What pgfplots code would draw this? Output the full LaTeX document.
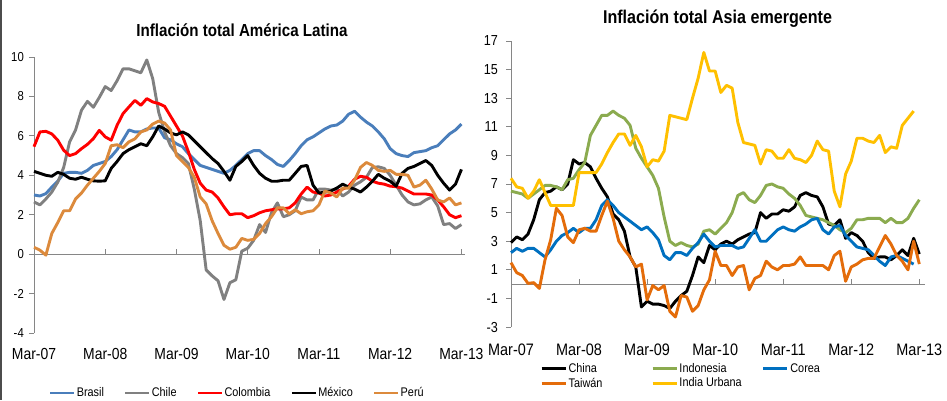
\documentclass[border=0pt]{standalone}
\usepackage{fontspec}
\setmainfont{Liberation Sans}[FakeStretch=0.87]
\usepackage{pgfplots}
\pgfplotsset{compat=1.18}
\usepackage{pgfplotstable}

\definecolor{cBra}{RGB}{74,126,187}
\definecolor{cChi}{RGB}{128,128,128}
\definecolor{cCol}{RGB}{255,0,0}
\definecolor{cMex}{RGB}{0,0,0}
\definecolor{cPer}{RGB}{220,138,60}
\definecolor{cChn}{RGB}{0,0,0}
\definecolor{cIdo}{RGB}{139,171,79}
\definecolor{cCor}{RGB}{0,112,192}
\definecolor{cTwn}{RGB}{228,108,10}
\definecolor{cInd}{RGB}{255,192,0}
\definecolor{axgray}{RGB}{134,134,134}

\pgfplotstableread{
m bra chi col mex per
0 3.00 2.65 5.45 4.20 0.35
1 2.95 2.50 6.20 4.10 0.20
2 3.07 2.80 6.23 4.00 -0.05
3 3.40 3.15 6.10 3.95 1.05
4 3.70 3.65 5.78 4.15 1.60
5 4.10 4.40 5.27 4.05 2.20
6 4.15 5.70 5.00 3.85 2.20
7 4.15 6.30 5.10 3.80 2.80
8 4.10 7.30 5.35 3.90 3.10
9 4.25 7.75 5.57 3.80 3.50
10 4.50 7.45 5.86 3.72 3.85
11 4.60 7.95 6.28 3.70 4.20
12 4.70 8.50 5.95 3.72 4.60
13 4.95 8.30 5.78 4.35 5.50
14 5.30 8.80 6.54 4.70 5.55
15 5.80 9.40 7.13 5.10 5.40
16 6.30 9.40 7.47 5.30 5.70
17 6.20 9.30 7.80 5.45 5.85
18 6.20 9.20 7.55 5.60 6.20
19 6.35 9.85 7.89 5.50 6.30
20 6.40 8.90 7.72 5.95 6.60
21 6.40 7.20 7.64 6.50 6.75
22 5.90 6.20 7.50 6.35 6.65
23 5.80 5.50 7.00 6.15 6.30
24 5.60 5.10 6.50 6.05 5.00
25 5.45 4.90 6.00 6.20 4.70
26 5.10 4.60 5.20 6.05 4.40
27 4.80 3.30 4.30 5.75 3.90
28 4.50 1.70 3.60 5.45 2.90
29 4.40 -0.80 3.25 5.15 2.55
30 4.30 -1.10 3.15 4.85 1.70
31 4.20 -1.35 2.85 4.60 1.05
32 4.10 -2.30 2.40 4.20 0.45
33 4.25 -1.45 2.00 3.75 0.25
34 4.50 -1.30 2.05 4.45 0.35
35 4.80 0.15 2.05 4.70 0.80
36 5.10 0.30 1.85 5.00 0.70
37 5.25 0.70 1.95 4.50 0.75
38 5.25 1.50 2.10 4.10 1.05
39 5.00 1.10 2.20 3.85 1.55
40 4.80 2.10 2.25 3.70 1.90
41 4.55 2.60 2.30 3.70 2.35
42 4.45 1.90 2.30 3.75 2.35
43 4.75 2.00 2.35 3.75 2.05
44 5.10 2.20 2.60 4.10 2.25
45 5.50 2.90 3.05 4.45 2.05
46 5.80 2.75 3.40 4.50 2.15
47 5.95 2.75 3.15 3.50 2.20
48 6.15 3.30 3.10 3.10 2.50
49 6.35 3.30 2.95 3.15 3.20
50 6.50 3.25 3.00 3.20 3.10
51 6.55 3.30 3.15 3.35 2.90
52 6.75 2.95 3.30 3.55 3.35
53 7.10 3.15 3.45 3.40 3.35
54 7.25 3.50 3.80 3.30 3.75
55 6.95 3.67 3.95 3.15 4.40
56 6.70 3.90 3.90 3.40 4.65
57 6.50 4.40 3.70 3.70 4.50
58 6.20 4.43 3.60 4.05 4.25
59 5.85 4.35 3.55 3.85 4.20
60 5.35 4.00 3.45 3.70 4.25
61 5.10 3.50 3.42 3.45 4.05
62 5.00 3.00 3.35 4.10 4.05
63 4.95 2.65 3.20 4.35 4.00
64 5.15 2.50 3.05 4.45 3.40
65 5.20 2.55 3.05 4.60 3.50
66 5.25 2.75 3.05 4.75 3.75
67 5.40 2.90 3.00 4.50 3.30
68 5.50 2.45 2.75 4.00 2.75
69 5.80 1.50 2.40 3.60 2.65
70 6.10 1.55 2.00 3.25 2.85
71 6.30 1.30 1.85 3.55 2.50
72 6.60 1.50 1.95 4.30 2.60
}\latam

\pgfplotstableread{
m chn ido cor twn ind
0 2.9 6.5 2.2 1.5 7.4
1 3.3 6.4 2.5 0.8 6.8
2 3.1 6.3 2.3 0.6 6.7
3 3.5 6.0 2.5 0.05 6.0
4 4.5 6.3 2.5 0.1 6.5
5 5.9 6.6 2.2 -0.3 7.3
6 6.4 6.9 1.9 1.7 6.4
7 6.5 6.9 2.4 3.1 5.5
8 6.8 6.8 3.0 5.3 5.5
9 6.6 6.6 3.4 4.8 5.5
10 7.0 7.3 3.6 3.3 5.5
11 8.7 7.4 3.9 2.9 5.5
12 8.4 8.0 3.6 3.8 7.8
13 8.5 8.5 3.9 3.9 7.8
14 8.2 10.4 3.9 3.7 7.8
15 7.4 11.1 4.5 3.7 7.8
16 6.7 11.8 5.5 4.8 8.4
17 6.1 11.8 5.9 5.8 9.2
18 4.9 12.1 5.5 4.6 9.9
19 4.5 11.8 5.0 3.0 10.5
20 3.7 11.6 4.7 2.4 10.5
21 1.9 11.1 4.4 1.9 9.7
22 1.2 9.5 4.1 1.2 10.4
23 -1.6 8.8 3.8 1.4 9.6
24 -1.2 8.2 4.0 -1.1 8.2
25 -1.4 7.6 3.6 -0.1 8.7
26 -1.4 6.7 3.1 -0.4 8.6
27 -1.5 4.7 2.0 -0.1 9.3
28 -1.7 3.0 1.7 -1.9 11.8
29 -1.2 2.7 2.2 -2.3 11.7
30 -0.8 2.9 2.2 -0.8 11.6
31 -0.5 2.7 2.0 -0.9 11.5
32 0.6 2.6 2.5 -1.9 13.0
33 1.9 2.8 2.9 -1.5 14.4
34 1.5 3.7 3.5 -0.4 16.2
35 2.7 3.8 3.0 0.3 14.9
36 2.4 3.5 2.6 2.3 14.9
37 2.8 3.9 2.7 1.3 13.4
38 3.0 4.3 2.7 1.3 13.9
39 2.8 5.0 2.7 0.6 13.7
40 3.1 6.2 2.5 1.2 11.3
41 3.3 6.4 2.6 1.3 9.9
42 3.5 5.9 3.2 -0.4 9.8
43 3.6 5.7 3.8 0.4 9.7
44 5.0 6.2 3.0 0.6 8.4
45 4.6 6.9 3.0 1.6 9.4
46 4.9 7.0 3.4 1.2 9.3
47 4.9 6.8 3.8 1.0 8.8
48 5.2 6.7 4.0 1.3 8.8
49 5.1 6.3 3.8 1.3 9.4
50 5.4 6.0 3.7 1.4 8.8
51 6.2 5.5 4.0 1.9 8.7
52 6.4 4.8 4.2 1.3 8.5
53 6.2 4.7 4.5 1.3 9.0
54 6.1 4.6 4.6 1.3 10.0
55 5.4 4.5 3.8 1.3 9.4
56 4.2 4.3 3.5 1.0 9.3
57 4.1 4.1 4.0 2.0 6.5
58 4.5 3.8 4.1 2.3 5.4
59 3.2 3.6 3.4 0.2 7.7
60 3.6 3.9 3.0 1.2 8.6
61 3.4 4.5 2.6 1.4 10.2
62 3.0 4.5 2.5 1.7 10.2
63 2.2 4.6 2.4 1.8 10.0
64 1.8 4.6 2.0 1.8 9.9
65 1.9 4.6 1.6 2.6 10.4
66 1.9 4.3 1.3 3.4 9.2
67 1.7 4.6 1.9 2.8 9.6
68 2.0 4.3 2.0 2.0 9.5
69 2.4 4.3 1.8 1.6 11.1
70 2.0 4.6 1.6 1.0 11.6
71 3.2 5.3 1.4 3.0 12.1
72 2.1 5.9 nan 1.4 nan
}\asia

\pgfplotsset{
  panel/.style={
    scale only axis,
    axis y line*=left, axis x line*=bottom,
    x axis line style={draw=none}, xtick style={draw=none},
    y axis line style={draw=axgray, line width=0.8pt},
    ytick style={draw=axgray, line width=0.8pt},
    tick align=outside, major tick length=5pt,
    xtick={0,12,...,72},
    xticklabels={Mar-07,Mar-08,Mar-09,Mar-10,Mar-11,Mar-12,Mar-13},
    /pgf/number format/assume math mode=true,
    clip=false,
    every axis plot/.append style={line width=2.9pt, line join=round, no marks},
    legend image code/.code={\draw[##1] (0pt,0pt) -- (24pt,0pt);},
    legend cell align=left,
  },
}

\begin{document}
\begin{tikzpicture}
\useasboundingbox (0,0) rectangle (947pt,-400pt);
\fill[white] (0,0) rectangle (947pt,-400pt);
\draw[gray!60!black, line width=2pt] (1pt,0pt) -- (1pt,-400pt);

% ---------------- left panel
\begin{axis}[panel,
  at={(34pt,-333pt)}, anchor=south west,
  width=431pt, height=276pt,
  xmin=0, xmax=72.6, ymin=-4, ymax=10,
  ytick={-4,-2,...,10},
  yticklabel style={font=\fontsize{13}{13}\selectfont, inner sep=0pt, xshift=-5pt},
  xticklabel style={font=\fontsize{16}{16}\selectfont, inner sep=0pt, yshift=-10pt},
  legend columns=5,
  legend style={draw=none, fill=none, inner sep=0pt,
    font=\fontsize{12.5}{12.5}\selectfont,
    nodes={inner xsep=1pt},
    at={(0.034,-0.2174)}, anchor=west,
    /tikz/every even column/.append style={column sep=19pt}},
]
\draw[axgray, line width=0.8pt] (axis cs:0,0) -- (axis cs:72.6,0);
\pgfplotsinvokeforeach{12,24,36,48,60,72}{\draw[axgray, line width=0.8pt] (axis cs:#1,0) -- ++(0pt,5pt);}
\addplot[cBra] table[x=m,y=bra]{\latam}; \addlegendentry{Brasil}
\addplot[cChi] table[x=m,y=chi]{\latam}; \addlegendentry{Chile}
\addplot[cCol] table[x=m,y=col]{\latam}; \addlegendentry{Colombia}
\addplot[cMex] table[x=m,y=mex]{\latam}; \addlegendentry{México}
\addplot[cPer] table[x=m,y=per]{\latam}; \addlegendentry{Perú}
\end{axis}
\node[anchor=base, font=\bfseries\fontsize{17.4}{17.4}\selectfont] at (242pt,-36.7pt) {Inflación total América Latina};

% ---------------- right panel
\begin{axis}[panel,
  at={(511pt,-327pt)}, anchor=south west,
  width=414pt, height=286pt,
  xmin=0, xmax=73, ymin=-3, ymax=17,
  ytick={-3,-1,...,17},
  yticklabel style={font=\fontsize{14.5}{14.5}\selectfont, inner sep=0pt, xshift=-8pt},
  xticklabel style={font=\fontsize{16.6}{16.6}\selectfont, inner sep=0pt, yshift=-11.5pt},
  legend columns=3,
  legend style={draw=none, fill=none, inner sep=0pt,
    font=\fontsize{12.5}{12.5}\selectfont,
    nodes={inner xsep=1.5pt},
    at={(0.070,-0.119)}, anchor=north west,
    /tikz/every even column/.append style={column sep=6pt}},
]
\draw[axgray, line width=0.8pt] (axis cs:0,0) -- (axis cs:73,0);
\pgfplotsinvokeforeach{12,24,36,48,60,72}{\draw[axgray, line width=0.8pt] (axis cs:#1,0) -- ++(0pt,5pt);}
\addplot[cChn] table[x=m,y=chn]{\asia}; \addlegendentry{\makebox[75pt][l]{China}}
\addplot[cIdo] table[x=m,y=ido]{\asia}; \addlegendentry{\makebox[75pt][l]{Indonesia}}
\addplot[cCor] table[x=m,y=cor]{\asia}; \addlegendentry{\makebox[75pt][l]{Corea}}
\addplot[cTwn] table[x=m,y=twn]{\asia}; \addlegendentry{\makebox[75pt][l]{Taiwán}}
\addplot[cInd] table[x=m,y=ind]{\asia}; \addlegendentry{\makebox[75pt][l]{India Urbana}}
\end{axis}
\node[anchor=base, font=\bfseries\fontsize{18.5}{18.5}\selectfont] at (717.5pt,-23.3pt) {Inflación total Asia emergente};
\end{tikzpicture}
\end{document}
